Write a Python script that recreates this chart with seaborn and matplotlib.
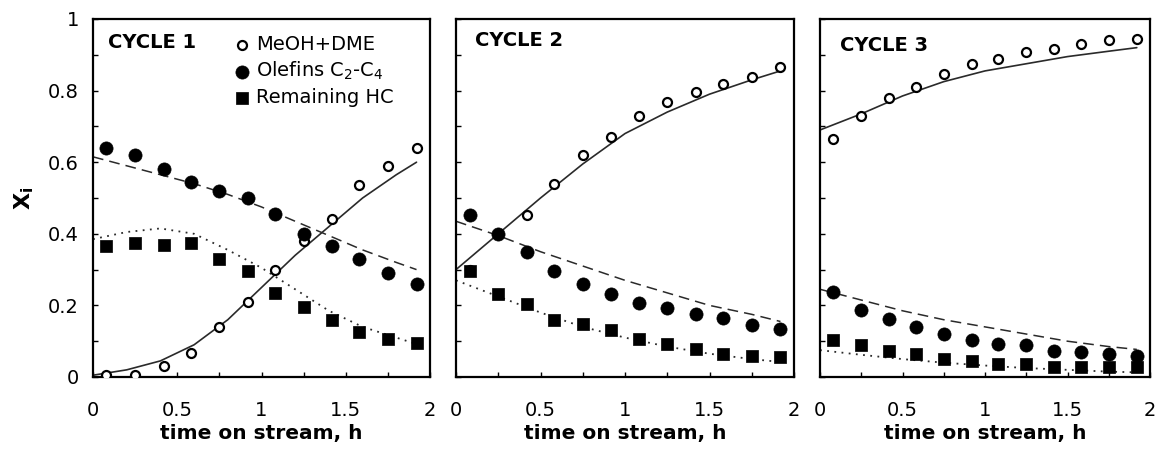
import matplotlib
matplotlib.use("Agg")
import matplotlib.pyplot as plt
from matplotlib.ticker import FixedLocator, FixedFormatter, MultipleLocator, NullFormatter
import seaborn as sns

# ---------------- data ----------------
time_h = [0.08, 0.25, 0.42, 0.58, 0.75, 0.92, 1.08, 1.25, 1.42, 1.58, 1.75, 1.92]

series_labels = ["MeOH+DME", "Olefins C$_2$-C$_4$", "Remaining HC"]
panel_titles = ["CYCLE 1", "CYCLE 2", "CYCLE 3"]

# Cycle 1 experimental points
c1_meoh = [0.005, 0.005, 0.03, 0.067, 0.14, 0.21, 0.30, 0.38, 0.44, 0.535, 0.59, 0.64]
c1_olef = [0.64, 0.62, 0.58, 0.545, 0.52, 0.50, 0.455, 0.40, 0.365, 0.33, 0.29, 0.26]
c1_rem = [0.365, 0.375, 0.37, 0.375, 0.33, 0.295, 0.236, 0.195, 0.158, 0.127, 0.107, 0.095]

# Cycle 2 experimental points
c2_meoh = [0.30, 0.40, 0.453, 0.54, 0.62, 0.67, 0.73, 0.767, 0.795, 0.818, 0.837, 0.865]
c2_olef = [0.453, 0.40, 0.35, 0.295, 0.26, 0.233, 0.208, 0.193, 0.177, 0.165, 0.144, 0.133]
c2_rem = [0.295, 0.233, 0.205, 0.158, 0.149, 0.13, 0.107, 0.093, 0.079, 0.065, 0.06, 0.056]

# Cycle 3 experimental points
c3_meoh = [0.664, 0.73, 0.78, 0.81, 0.846, 0.874, 0.888, 0.907, 0.917, 0.93, 0.94, 0.945]
c3_olef = [0.238, 0.186, 0.163, 0.14, 0.121, 0.102, 0.093, 0.088, 0.074, 0.07, 0.065, 0.06]
c3_rem = [0.102, 0.088, 0.074, 0.065, 0.049, 0.046, 0.037, 0.037, 0.028, 0.028, 0.028, 0.028]

# model curves
fit_x = [0.0, 0.25, 0.5, 0.75, 1.0, 1.25, 1.5, 1.75, 1.92]
fit_x_fine = [0.0, 0.2, 0.4, 0.6, 0.8, 1.0, 1.2, 1.4, 1.6, 1.8, 1.92]

c1_meoh_fit = [0.005, 0.02, 0.045, 0.09, 0.16, 0.25, 0.34, 0.42, 0.50, 0.565, 0.60]
c1_olef_fit = [0.615, 0.59, 0.565, 0.54, 0.51, 0.475, 0.435, 0.395, 0.355, 0.32, 0.30]
c1_rem_fit = [0.385, 0.405, 0.415, 0.40, 0.355, 0.305, 0.245, 0.185, 0.14, 0.11, 0.092]

c2_meoh_fit = [0.30, 0.40, 0.50, 0.595, 0.68, 0.74, 0.79, 0.83, 0.855]
c2_olef_fit = [0.435, 0.395, 0.35, 0.31, 0.27, 0.235, 0.20, 0.175, 0.155]
c2_rem_fit = [0.27, 0.225, 0.18, 0.14, 0.11, 0.085, 0.065, 0.05, 0.042]

c3_meoh_fit = [0.69, 0.735, 0.785, 0.825, 0.855, 0.875, 0.895, 0.91, 0.92]
c3_olef_fit = [0.245, 0.215, 0.185, 0.16, 0.14, 0.12, 0.10, 0.085, 0.077]
c3_rem_fit = [0.075, 0.062, 0.05, 0.04, 0.032, 0.025, 0.02, 0.015, 0.013]

x_ticks = [0, 0.5, 1, 1.5, 2]
x_tick_labels = ["0", "0.5", "1", "1.5", "2"]
y_ticks = [0, 0.2, 0.4, 0.6, 0.8, 1]
y_tick_labels = ["0", "0.2", "0.4", "0.6", "0.8", "1"]

# ---------------- figure ----------------
sns.set_style("white")
plt.rcParams["font.family"] = ["DejaVu Sans"]
plt.rcParams["mathtext.fontset"] = "dejavusans"
for key in ["text.color", "axes.labelcolor", "xtick.color", "ytick.color"]:
    plt.rcParams[key] = "black"

fig = plt.figure(figsize=(11.57, 4.49), dpi=100)
W, H = 1157, 449
bottom = 1 - 377 / H
height = 358 / H
rects = [
    [93 / W, bottom, 337 / W, height],
    [456 / W, bottom, 338 / W, height],
    [820 / W, bottom, 330 / W, height],
]
title_pos = [(0.045, 0.935), (0.055, 0.94), (0.06, 0.925)]

panels = [
    (c1_meoh, c1_olef, c1_rem, c1_meoh_fit, c1_olef_fit, c1_rem_fit, fit_x_fine),
    (c2_meoh, c2_olef, c2_rem, c2_meoh_fit, c2_olef_fit, c2_rem_fit, fit_x),
    (c3_meoh, c3_olef, c3_rem, c3_meoh_fit, c3_olef_fit, c3_rem_fit, fit_x),
]

line_col = "#2a2a2a"
for i, (meoh, olef, rem, mfit, ofit, rfit, fx) in enumerate(panels):
    ax = fig.add_axes(rects[i])
    # model curves
    sns.lineplot(x=fx, y=mfit, ax=ax, color=line_col, linewidth=1.2,
                 linestyle="-", zorder=2)
    sns.lineplot(x=fx, y=ofit, ax=ax, color=line_col, linewidth=1.1,
                 linestyle=(0, (7, 4)), zorder=2)
    sns.lineplot(x=fx, y=rfit, ax=ax, color=line_col, linewidth=1.3,
                 linestyle=(0, (1, 3)), zorder=2)
    # experimental points
    lab = series_labels if i == 0 else [None, None, None]
    sns.scatterplot(x=time_h, y=meoh, ax=ax, marker="o", s=42, color="white",
                    edgecolor="black", linewidth=1.6, zorder=3, label=lab[0])
    sns.scatterplot(x=time_h, y=olef, ax=ax, marker="o", s=90, color="black",
                    edgecolor="black", linewidth=0.5, zorder=4, label=lab[1])
    sns.scatterplot(x=time_h, y=rem, ax=ax, marker="s", s=78, color="black",
                    edgecolor="black", linewidth=0.5, zorder=4, label=lab[2])

    ax.set_xlim(0, 2)
    ax.set_ylim(0, 1)
    for sp in ax.spines.values():
        sp.set_visible(True)
        sp.set_color("black")
        sp.set_linewidth(1.6)

    ax.xaxis.set_major_locator(FixedLocator(x_ticks))
    ax.xaxis.set_major_formatter(FixedFormatter(x_tick_labels))
    ax.xaxis.set_minor_locator(MultipleLocator(0.25))
    ax.yaxis.set_major_locator(FixedLocator(y_ticks))
    ax.yaxis.set_minor_locator(MultipleLocator(0.1))
    if i == 0:
        ax.yaxis.set_major_formatter(FixedFormatter(y_tick_labels))
    else:
        ax.yaxis.set_major_formatter(NullFormatter())
    ax.tick_params(axis="both", which="both", direction="in", length=3.5,
                   width=1.0, color="black", labelsize=14, labelcolor="black")
    ax.tick_params(axis="x", which="both", pad=17, bottom=True, top=False)
    ax.tick_params(axis="y", which="both", pad=10, left=True, right=False)

    ax.set_xlabel("time on stream, h", fontsize=14.5, fontweight="bold",
                  labelpad=3, color="black")
    ax.set_ylabel("")
    ax.text(title_pos[i][0], title_pos[i][1], panel_titles[i],
            transform=ax.transAxes, fontsize=14, fontweight="bold",
            ha="left", va="center", color="black")

    if i == 0:
        ax.set_ylabel(r"$\mathbf{X_i}$", fontsize=16, color="black")
        ax.yaxis.set_label_coords(-0.17, 0.5)
        leg = ax.legend(loc="upper left", bbox_to_anchor=(0.42, 0.955),
                        frameon=False, fontsize=14, handlelength=0.8,
                        handletextpad=0.3, labelspacing=0.3, borderpad=0,
                        borderaxespad=0)
        for t in leg.get_texts():
            t.set_color("black")
    else:
        leg = ax.get_legend()
        if leg is not None:
            leg.remove()

fig.savefig("out.png", dpi=100)
